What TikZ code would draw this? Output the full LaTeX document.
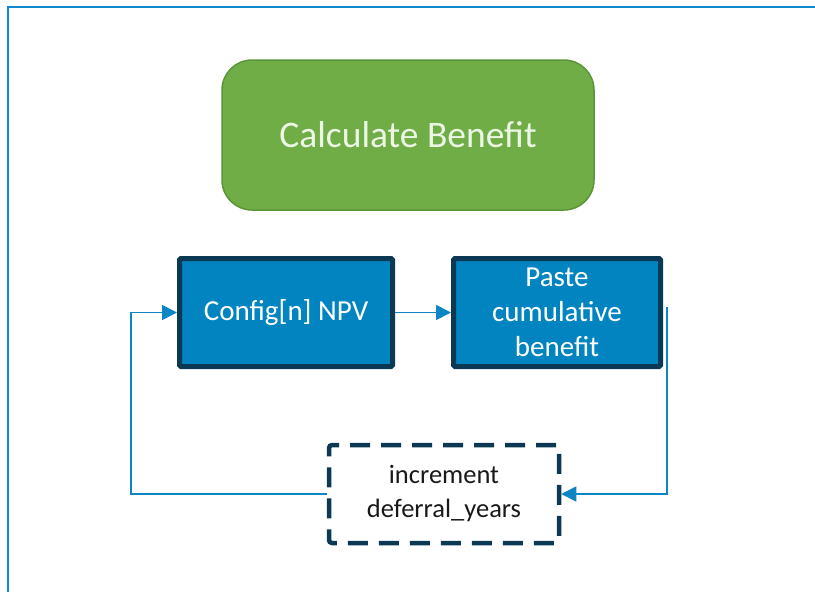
\documentclass[tikz,border=0pt]{standalone}
\usepackage{fontspec}
\setmainfont{Carlito}
\usetikzlibrary{arrows.meta}
\definecolor{frameblue}{RGB}{20,136,204}
\definecolor{greenfill}{RGB}{112,173,71}
\definecolor{greenedge}{RGB}{90,150,55}
\definecolor{greentext}{RGB}{236,246,228}
\definecolor{boxblue}{RGB}{2,132,192}
\definecolor{navy}{RGB}{11,57,84}
\definecolor{linkblue}{RGB}{14,134,195}
\tikzset{
  startbox/.style={draw=greenedge, fill=greenfill, line width=1.5pt, rounded corners=30pt,
    minimum width=372pt, minimum height=150pt, inner sep=0pt, text=greentext,
    font=\fontsize{37.5}{44}\selectfont},
  procbox/.style={draw=navy, fill=boxblue, line width=5pt, rounded corners=1.5pt,
    minimum height=108pt, inner sep=0pt, text=white, align=center,
    font=\fontsize{29}{35}\selectfont},
  loopbox/.style={draw=navy, fill=white, line width=4.5pt, rounded corners=3pt,
    dash pattern=on 20pt off 11pt, minimum width=230pt, minimum height=98pt,
    inner sep=0pt, text=black!90, align=center, font=\fontsize{26.5}{34}\selectfont},
  link/.style={draw=linkblue, line width=1.8pt},
  tip/.style={-{Triangle[length=15pt,width=15pt]}}
}
\begin{document}
\begin{tikzpicture}[x=1pt,y=-1pt]
\useasboundingbox (0,0) rectangle (815,592);
\fill[white] (0,0) rectangle (815,592);
\draw[frameblue, line width=2pt] (7.5,592) -- (7.5,6.5) -- (815,6.5);
\node[startbox] (calc) at (408,135) {Calculate Benefit};
\node[procbox, minimum width=213pt] (cfg) at (286,312.5) {Config[n] NPV};
\node[procbox, minimum width=207pt] (paste) at (557,312.5) {Paste\\cumulative\\benefit};
\node[loopbox] (inc) at (444,494) {increment\\deferral\_years};
\coordinate (pout) at (667,307);
\coordinate (lp) at (131,494);
\draw[link, tip] (cfg.east) -- (paste.west);
\draw[link, tip] (pout) |- (inc.east);
\draw[link, tip] (inc.west) -- (lp) |- (cfg.west);
\end{tikzpicture}
\end{document}
